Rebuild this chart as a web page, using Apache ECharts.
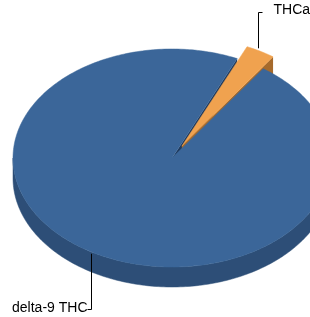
<!DOCTYPE html>
<html>
<head>
<meta charset="utf-8">
<script src="https://cdn.jsdelivr.net/npm/echarts@6/dist/echarts.min.js"></script>
<style>
html, body { margin: 0; padding: 0; background: #fff; }
#main { width: 310px; height: 317px; }
</style>
</head>
<body>
<div id="main"></div>
<script>
// data
var categories = ['delta-9 THC', 'THCa'];
var values = [97, 3];
var exploded = [0, 1];

var topColors = ['#3b6699', '#f0a24f'];
var sideColors = ['#2d4e77', '#a66a2b'];

// 3d pie layout
var cx = 172, cy = 158, rx = 159, ry = 109, depth = 20;
var explodeDist = 20, startAngle = 55;
var D = Math.PI / 180;

var total = values.reduce(function (a, b) { return a + b; }, 0);

function sliceRange(i) {
    var before = 0;
    for (var k = 0; k < i; k++) before += values[k];
    var hi = startAngle - before / total * 360;
    var lo = hi - values[i] / total * 360;
    return [lo, hi];
}
function pt(a, ox, oy, dz) {
    return [cx + ox + rx * Math.cos(a * D), cy + oy - ry * Math.sin(a * D) + dz];
}
function arc(a1, a2, ox, oy, dz) {
    var pts = [];
    var n = Math.max(2, Math.ceil(Math.abs(a2 - a1)));
    for (var k = 0; k <= n; k++) pts.push(pt(a1 + (a2 - a1) * k / n, ox, oy, dz));
    return pts;
}

function renderItem(params, api) {
    var i = params.dataIndex;
    var rg = sliceRange(i), lo = rg[0], hi = rg[1], mid = (lo + hi) / 2;
    var ex = exploded[i] ? explodeDist : 0;
    var ox = ex * Math.cos(mid * D), oy = -ex * Math.sin(mid * D) * ry / rx;
    var lift = exploded[i] ? 1 : 0;
    var apex = [cx + ox, cy + oy];
    var children = [];

    // outer wall, front half only
    for (var k = Math.floor(lo / 360) - 1; k <= Math.ceil(hi / 360); k++) {
        var s = Math.max(lo, 180 + 360 * k), e = Math.min(hi, 360 + 360 * k);
        if (e > s) {
            children.push({
                type: 'polygon', z2: 1 + lift,
                shape: { points: arc(s, e, ox, oy, 0).concat(arc(e, s, ox, oy, depth)) },
                style: { fill: sideColors[i], stroke: sideColors[i], lineWidth: 0.5 }
            });
        }
    }
    // radial walls
    function wall(a) {
        var r = pt(a, ox, oy, 0), rb = pt(a, ox, oy, depth);
        children.push({
            type: 'polygon', z2: 1 + lift,
            shape: { points: [apex, r, rb, [apex[0], apex[1] + depth]] },
            style: { fill: lift ? sideColors[i] : '#1f3a5e' }
        });
    }
    if (Math.cos(lo * D) > 0) wall(lo);
    if (Math.cos(hi * D) < 0) wall(hi);

    // top face
    children.push({
        type: 'polygon', z2: lift ? 3 : 4,
        shape: { points: [apex].concat(arc(lo, hi, ox, oy, 0)) },
        style: { fill: topColors[i], stroke: topColors[i], lineWidth: 0.5 }
    });

    // label with leader line
    var p = pt(mid, ox, oy, 0);
    var lx = Math.round(p[0]) - 1.5;
    var up = Math.sin(mid * D) > 0;
    var ly = up ? 12.5 : 309.5;
    var endX = up ? lx + 4 : lx - 4;
    children.push({
        type: 'polyline', z2: 10,
        shape: { points: [[lx, p[1] - (up ? 3 : -1)], [lx, ly], [endX, ly]] },
        style: { stroke: '#000', lineWidth: 1, fill: null }
    });
    children.push({
        type: 'text', z2: 10,
        style: {
            text: categories[i],
            x: up ? lx + 15 : lx - 4,
            y: up ? ly - 2.5 : ly - 1,
            fill: '#000',
            font: '14px "Liberation Sans", Arial, sans-serif',
            align: up ? 'left' : 'right',
            verticalAlign: 'middle'
        }
    });
    return { type: 'group', children: children };
}

var chart = echarts.init(document.getElementById('main'));
var option = {
    animation: false,
    series: [{
        type: 'custom',
        coordinateSystem: 'none',
        renderItem: renderItem,
        data: values.map(function (v, i) { return [i, v]; })
    }]
};
chart.setOption(option);
window.addEventListener('resize', function () { chart.resize(); });
</script>
</body>
</html>
